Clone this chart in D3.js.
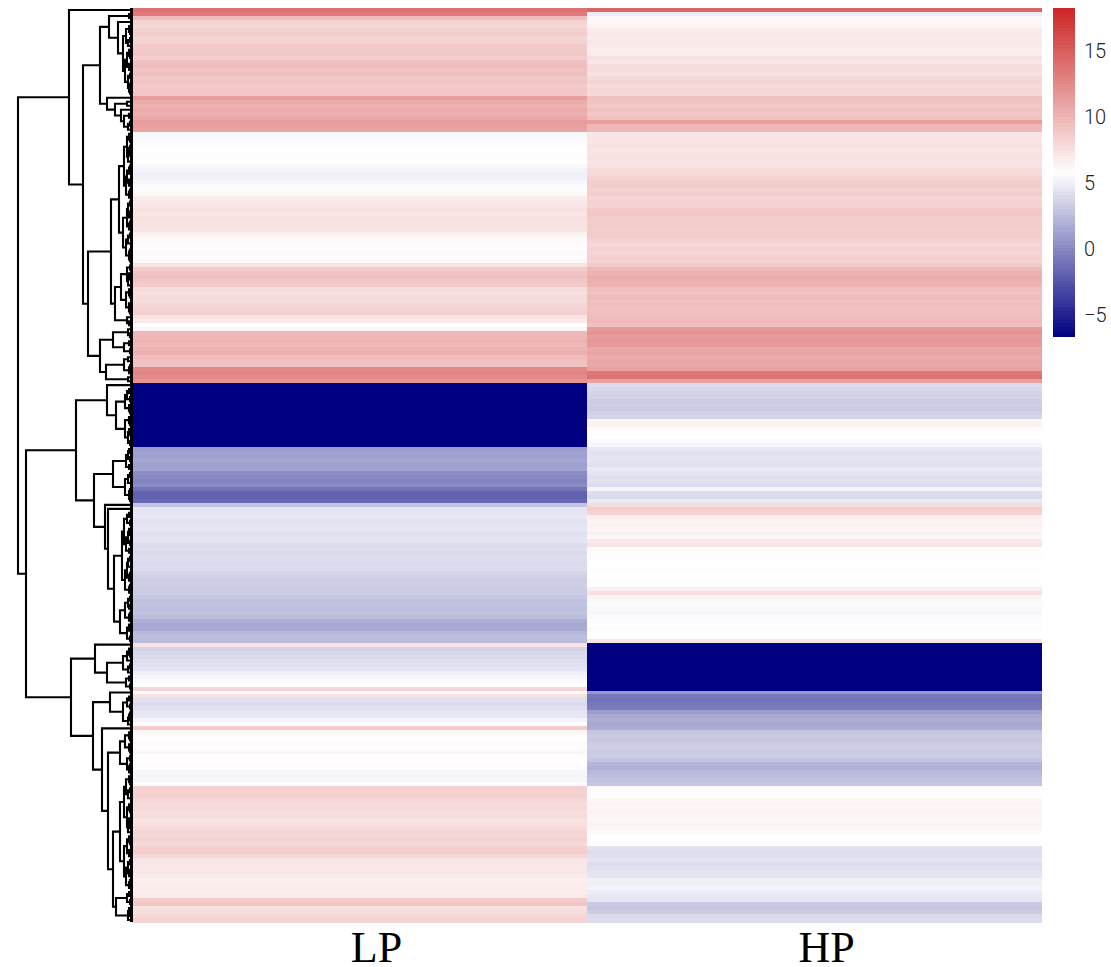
<!DOCTYPE html>
<html>
<head>
<meta charset="utf-8">
<script src="https://cdn.jsdelivr.net/npm/d3@7"></script>
<style>
    body { margin: 0; background: #fff; }
    svg { display: block; }
</style>
</head>
<body>
<script>
var samples = ["LP", "HP"];
var colorTicks = [-5, 0, 5, 10, 15];

//expression value of each row in the LP column
var lpValues = [
    13.9,13.5,9.6,8.3,8.1,8.4,8.7,8.2,8.4,8.9,
    8.8,9.0,8.6,9.4,9.6,9.3,9.5,9.0,9.2,8.9,
    9.1,9.0,11.5,10.6,10.3,10.6,10.4,10.8,11.5,11.3,
    11.1,5.4,5.5,5.6,5.7,5.8,5.7,5.9,5.8,5.5,
    5.2,5.0,5.1,5.4,5.6,5.7,6.2,6.9,7.1,7.3,
    7.5,7.2,7.6,7.4,7.5,7.3,6.6,6.2,6.1,6.0,
    5.9,6.1,6.0,6.2,7.4,8.8,9.2,9.4,9.0,8.8,
    7.8,7.6,7.9,7.7,8.2,8.4,8.5,7.4,7.0,5.9,
    6.3,9.8,10.0,10.2,9.8,10.1,10.3,9.7,9.4,9.2,
    12.5,12.8,12.6,12.0,-6.6,-6.6,-6.6,-6.6,-6.6,-6.6,
    -6.6,-6.6,-6.6,-6.6,-6.6,-6.6,-6.6,-6.6,-6.6,-6.6,
    1.0,1.3,1.2,1.4,1.1,1.3,0.2,0.0,-0.2,0.1,
    -1.0,-1.8,-1.9,-1.6,3.0,4.6,4.6,4.7,4.4,4.5,
    4.6,4.3,4.4,4.5,4.1,4.2,4.0,4.2,4.1,4.0,
    4.1,3.8,3.5,3.3,3.4,3.2,3.3,3.1,2.8,2.9,
    2.7,2.8,2.6,1.8,1.5,1.6,2.4,2.6,2.5,7.5,
    3.7,3.9,4.0,4.2,4.3,4.5,5.0,5.3,5.6,5.9,
    8.2,6.0,7.6,4.3,4.1,4.3,4.5,4.7,5.2,5.8,
    8.8,6.3,6.0,5.9,6.1,6.0,6.2,6.0,5.9,6.0,
    5.6,5.4,5.3,5.4,5.6,8.5,8.3,8.5,8.1,7.9,
    8.0,7.7,7.8,7.5,7.6,7.9,8.2,8.1,8.3,8.0,
    8.5,8.7,8.1,7.3,7.1,7.2,7.1,7.0,6.8,6.9,
    6.9,6.8,7.0,8.8,9.0,7.5,7.7,8.1,8.3
];

//expression value of each row in the HP column
var hpValues = [
    14.7,4.9,6.3,6.2,6.5,6.9,7.1,7.0,7.2,7.0,
    6.8,7.0,7.5,7.1,7.7,7.8,7.5,8.0,8.2,7.9,
    8.1,8.0,9.4,9.2,9.0,9.3,9.1,9.4,11.4,10.0,
    9.9,7.2,7.4,7.3,7.5,7.2,7.4,7.6,7.3,7.5,
    7.8,8.0,8.3,8.6,8.7,8.4,8.6,8.2,8.4,8.3,
    8.9,9.1,8.8,8.7,8.9,8.6,8.8,8.7,8.3,8.1,
    8.4,8.2,8.5,8.3,8.9,9.9,10.2,10.5,10.3,10.1,
    9.5,9.3,9.7,9.4,9.6,9.3,9.5,9.6,9.8,9.4,
    11.7,12.0,11.5,11.8,11.6,10.8,11.0,10.6,10.9,10.7,
    11.2,13.5,13.9,11.3,4.1,3.9,3.7,3.6,3.3,3.4,
    3.2,3.5,3.7,6.4,6.6,6.0,5.9,5.8,5.6,5.4,
    4.7,4.4,4.6,4.5,4.3,4.8,4.5,4.2,4.4,4.1,
    5.3,4.2,4.0,4.8,7.8,8.7,8.3,6.8,6.5,6.6,
    6.4,6.6,6.3,7.1,7.4,6.0,5.9,5.7,5.8,5.8,
    5.7,5.9,5.8,5.7,5.9,6.8,7.6,6.4,5.5,5.6,
    5.5,5.4,5.6,5.7,5.8,5.6,5.7,5.9,7.2,-6.6,
    -6.6,-6.6,-6.6,-6.6,-6.6,-6.6,-6.6,-6.6,-6.6,-6.6,
    -6.6,0.8,-0.8,-1.0,-0.8,-0.6,1.0,1.6,1.8,1.5,
    1.7,3.0,3.2,3.1,3.3,3.4,3.2,3.3,3.0,2.2,
    2.0,2.4,2.6,2.8,3.0,6.1,5.9,6.0,6.2,6.4,
    6.3,6.5,6.4,6.2,6.5,6.3,6.1,5.8,5.9,5.7,
    4.4,4.2,4.3,4.5,4.1,4.3,4.4,4.6,5.1,5.0,
    5.2,4.9,4.7,4.5,3.2,3.0,3.3,4.0,4.1
];

//height at which each row joins the next one, this fixes the whole row dendrogram
var mergeHeights = [
    63,3,23,14,3,2,6,2,4,9,
    3,2,5,1,3,7,2,4,1,3,
    2,32,25,5,17,11,3,8,2,4,
    49,3,2,5,2,3,1,4,8,2,
    3,5,1,3,6,2,3,13,2,4,
    1,3,5,2,3,9,2,4,1,6,
    2,3,2,21,2,5,3,1,4,11,
    3,2,6,1,3,2,17,5,3,44,
    4,2,19,3,8,2,32,4,8,2,
    3,26,4,114,25,3,5,2,7,3,
    2,16,3,2,7,3,1,4,2,56,
    3,4,2,6,3,19,2,4,1,7,
    2,3,2,38,27,24,3,5,2,8,
    3,1,4,2,6,3,10,2,4,1,
    5,2,3,7,2,3,18,2,4,3,
    7,2,3,12,3,1,5,2,106,37,
    3,2,5,9,2,4,25,3,6,2,
    61,22,3,5,2,9,2,3,4,39,
    30,3,2,7,3,2,12,2,5,2,
    3,24,3,2,6,2,4,1,8,3,
    2,5,1,3,2,4,12,3,2,5,
    1,3,8,2,4,1,3,6,2,3,
    19,3,5,2,16,3,2,4
];

var width = 1111,
    height = 967;

var legendMin = -6.6,
    legendMax = 18.26;

var svg = d3.select("body")
    .append("svg")
    .attr("width", width)
    .attr("height", height);

var color = d3.scaleLinear()
    .domain([legendMin, 5.8, legendMax])
    .range(["#000080", "#ffffff", "#cd2626"])
    .clamp(true);

var x = d3.scaleBand()
    .domain(samples)
    .range([132, 1042]);

var y = d3.scaleBand()
    .domain(d3.range(lpValues.length))
    .range([8, 922]);

//heatmap cells, one rect per row and sample
var columns = [lpValues, hpValues];
samples.forEach(function(sample, c){
    svg.append("g")
        .attr("class", "cells " + sample)
        .selectAll("rect")
        .data(columns[c])
        .enter()
        .append("rect")
        .attr("x", x(sample))
        .attr("y", function(d, i){ return y(i); })
        .attr("width", x.bandwidth())
        .attr("height", y.bandwidth() + 0.5)
        .attr("fill", function(d){ return color(d); })
        .attr("shape-rendering", "crispEdges");
});

//sample labels
svg.append("g")
    .selectAll("text")
    .data(samples)
    .enter()
    .append("text")
    .attr("x", function(d){ return x(d) + x.bandwidth() / 2 + (d == "LP" ? 17 : 12); })
    .attr("y", 962)
    .attr("text-anchor", "middle")
    .attr("font-family", "'Liberation Serif'")
    .attr("font-size", 44)
    .attr("fill", "#000")
    .text(function(d){ return d; });

//dendrogram: split the rows at the highest merge, then the same for both sides
var treeX = d3.scaleLinear()
    .domain([0, d3.max(mergeHeights)])
    .range([132, 18]);

function buildNode(lo, hi){
    if (lo == hi) {
        return { h: 0, y: y(lo) + y.bandwidth() / 2 };
    }
    var split = lo + d3.maxIndex(mergeHeights.slice(lo, hi));
    var left = buildNode(lo, split),
        right = buildNode(split + 1, hi);
    return { h: mergeHeights[split], y: (left.y + right.y) / 2, children: [left, right] };
}

var tree = d3.hierarchy(buildNode(0, lpValues.length - 1));

svg.append("g")
    .attr("class", "dendrogram")
    .selectAll("path")
    .data(tree.descendants().filter(function(d){ return d.children; }))
    .enter()
    .append("path")
    .attr("fill", "none")
    .attr("stroke", "#000")
    .attr("stroke-width", 2.1)
    .attr("d", function(d){
        var a = d.children[0].data,
            b = d.children[1].data;
        return "M" + treeX(a.h) + "," + a.y +
            "H" + treeX(d.data.h) +
            "V" + b.y +
            "H" + treeX(b.h);
    });

//leaves are too tight to tell apart at the heatmap edge
svg.append("line")
    .attr("x1", treeX(0) - 0.5)
    .attr("x2", treeX(0) - 0.5)
    .attr("y1", y.range()[0])
    .attr("y2", y.range()[1])
    .attr("stroke", "#000")
    .attr("stroke-width", 3);

//color legend
var legendY = d3.scaleLinear()
    .domain([legendMin, legendMax])
    .range([336, 8]);

var legendStep = (legendMax - legendMin) / 100;
var legendSteps = d3.range(100).map(function(i){
    return legendMin + legendStep * i;
});

svg.append("g")
    .attr("class", "legend")
    .selectAll("rect")
    .data(legendSteps)
    .enter()
    .append("rect")
    .attr("x", 1053)
    .attr("width", 22)
    .attr("y", function(d){ return legendY(d + legendStep); })
    .attr("height", function(d){ return legendY(d) - legendY(d + legendStep) + 0.5; })
    .attr("fill", function(d){ return color(d + legendStep / 2); })
    .attr("shape-rendering", "crispEdges");

var legendAxis = d3.axisRight(legendY)
    .tickValues(colorTicks)
    .tickSize(0)
    .tickPadding(9)
    .tickFormat(function(d){ return String(d).replace("-", "\u2212"); });

var legendG = svg.append("g")
    .attr("transform", "translate(1075,0)")
    .call(legendAxis);

legendG.select(".domain").remove();
legendG.selectAll("text")
    .attr("font-family", "Roboto")
    .attr("font-weight", 300)
    .attr("font-size", 20)
    .attr("fill", "#222");
</script>
</body>
</html>
